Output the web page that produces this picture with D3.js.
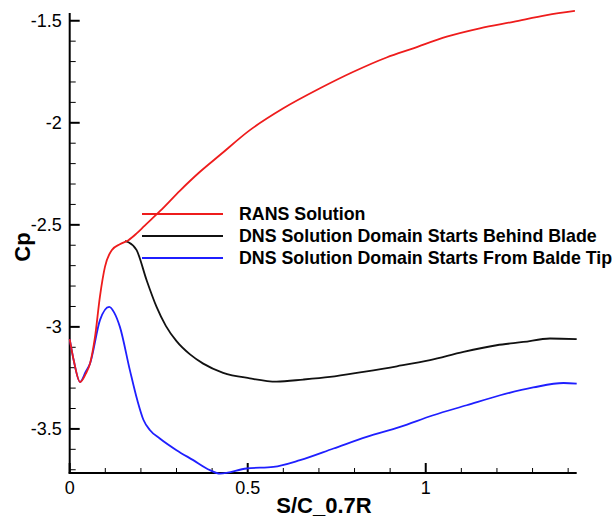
<!DOCTYPE html>
<html>
<head>
<meta charset="utf-8">
<script src="https://cdn.jsdelivr.net/npm/d3@7"></script>
<style>
  body { margin: 0; background: #fff; }
  text { font-family: "Liberation Sans", Arial, sans-serif; }
</style>
</head>
<body>
<script>
// data: S/C_0.7R vs Cp
var ransX = [0, 0.012, 0.029, 0.045, 0.057, 0.071, 0.085, 0.099, 0.118, 0.141, 0.165, 0.188, 0.21, 0.254, 0.31, 0.366, 0.422, 0.506, 0.6, 0.703, 0.797, 0.89, 0.965, 1.059, 1.152, 1.246, 1.34, 1.419];
var ransY = [-3.06, -3.17, -3.27, -3.23, -3.18, -3.05, -2.85, -2.706, -2.624, -2.595, -2.575, -2.542, -2.505, -2.432, -2.332, -2.24, -2.158, -2.036, -1.929, -1.831, -1.75, -1.68, -1.635, -1.578, -1.537, -1.505, -1.472, -1.452];

var dnsBehindX = [0.155, 0.165, 0.188, 0.216, 0.244, 0.27, 0.3, 0.338, 0.375, 0.431, 0.506, 0.581, 0.656, 0.731, 0.825, 0.919, 1.012, 1.106, 1.199, 1.274, 1.349, 1.424];
var dnsBehindY = [-2.58, -2.585, -2.624, -2.771, -2.902, -2.995, -3.07, -3.135, -3.18, -3.225, -3.252, -3.268, -3.258, -3.245, -3.22, -3.193, -3.163, -3.122, -3.09, -3.074, -3.057, -3.06];

var dnsTipX = [0, 0.012, 0.029, 0.045, 0.057, 0.085, 0.111, 0.125, 0.141, 0.169, 0.19, 0.207, 0.225, 0.254, 0.3, 0.347, 0.394, 0.422, 0.497, 0.572, 0.647, 0.741, 0.834, 0.928, 1.021, 1.115, 1.209, 1.302, 1.387, 1.424];
var dnsTipY = [-3.06, -3.17, -3.27, -3.22, -3.18, -2.967, -2.902, -2.93, -3.0, -3.212, -3.36, -3.455, -3.505, -3.548, -3.604, -3.653, -3.702, -3.719, -3.694, -3.686, -3.653, -3.596, -3.539, -3.49, -3.433, -3.384, -3.335, -3.297, -3.275, -3.278];

var seriesNames = ["RANS Solution", "DNS Solution Domain Starts Behind Blade", "DNS Solution Domain Starts From Balde Tip"];
var seriesColors = ["#ee1c1c", "#111111", "#1f1fff"];
var xTicks = [0, 0.5, 1];
var yTicks = [-3.5, -3, -2.5, -2, -1.5];

var width = 614, height = 520;

var svg = d3.select("body").append("svg")
    .attr("width", width)
    .attr("height", height);

// scales
var x = d3.scaleLinear().domain([0, 1.424]).range([69.7, 576.7]);
var y = d3.scaleLinear().domain([-3.716, -1.462]).range([473, 13]);

var minorX = d3.range(0, 1.42, 0.1).map(function(d) { return +d.toFixed(1); });
var minorY = d3.range(-3.7, -1.45, 0.1).map(function(d) { return +d.toFixed(1); });

// x axis
var xAxis = svg.append("g")
    .attr("transform", "translate(0,473)");
xAxis.append("line")
    .attr("x1", 68.7).attr("x2", 576.7)
    .attr("stroke", "#000").attr("stroke-width", 2);
xAxis.selectAll(".minor").data(minorX).enter().append("line")
    .attr("x1", function(d) { return x(d); }).attr("x2", function(d) { return x(d); })
    .attr("y1", 0).attr("y2", function(d) { return xTicks.indexOf(d) >= 0 ? -10 : -5; })
    .attr("stroke", "#000")
    .attr("stroke-width", function(d) { return xTicks.indexOf(d) >= 0 ? 2 : 1; });
xAxis.selectAll(".lbl").data(xTicks).enter().append("text")
    .attr("x", function(d) { return x(d); })
    .attr("y", 21)
    .attr("text-anchor", "middle")
    .attr("font-size", 18)
    .text(function(d) { return d; });

// y axis
var yAxis = svg.append("g")
    .attr("transform", "translate(69.7,0)");
yAxis.append("line")
    .attr("y1", 13).attr("y2", 474)
    .attr("stroke", "#000").attr("stroke-width", 2);
yAxis.selectAll(".minor").data(minorY).enter().append("line")
    .attr("y1", function(d) { return y(d); }).attr("y2", function(d) { return y(d); })
    .attr("x1", 0).attr("x2", function(d) { return yTicks.indexOf(d) >= 0 ? 10 : 6; })
    .attr("stroke", "#000")
    .attr("stroke-width", function(d) { return yTicks.indexOf(d) >= 0 ? 2 : 1; });
yAxis.selectAll(".lbl").data(yTicks).enter().append("text")
    .attr("x", -8)
    .attr("y", function(d) { return y(d); })
    .attr("dy", "0.36em")
    .attr("text-anchor", "end")
    .attr("font-size", 18)
    .text(function(d) { return d; });

// axis titles
svg.append("text")
    .attr("x", 324).attr("y", 513)
    .attr("text-anchor", "middle")
    .attr("font-size", 22)
    .attr("font-weight", "bold")
    .text("S/C_0.7R");

svg.append("text")
    .attr("transform", "translate(30,247) rotate(-90)")
    .attr("text-anchor", "middle")
    .attr("font-size", 22)
    .attr("font-weight", "bold")
    .text("Cp");

// lines
var line = d3.line()
    .x(function(d) { return x(d[0]); })
    .y(function(d) { return y(d[1]); })
    .curve(d3.curveMonotoneX);

var series = [d3.zip(ransX, ransY), d3.zip(dnsBehindX, dnsBehindY), d3.zip(dnsTipX, dnsTipY)];

// draw blue, black, then red on top
[2, 1, 0].forEach(function(i) {
  svg.append("path")
      .datum(series[i])
      .attr("fill", "none")
      .attr("stroke", seriesColors[i])
      .attr("stroke-width", 1.8)
      .attr("d", line);
});

// legend
var legend = svg.append("g");
seriesNames.forEach(function(name, i) {
  var ly = 214 + i * 22;
  legend.append("line")
      .attr("x1", 142).attr("x2", 223)
      .attr("y1", ly).attr("y2", ly)
      .attr("stroke", seriesColors[i])
      .attr("stroke-width", 2);
  legend.append("text")
      .attr("x", 239).attr("y", ly)
      .attr("dy", "0.36em")
      .attr("font-size", 17.8)
      .attr("font-weight", "bold")
      .text(name);
});
</script>
</body>
</html>
